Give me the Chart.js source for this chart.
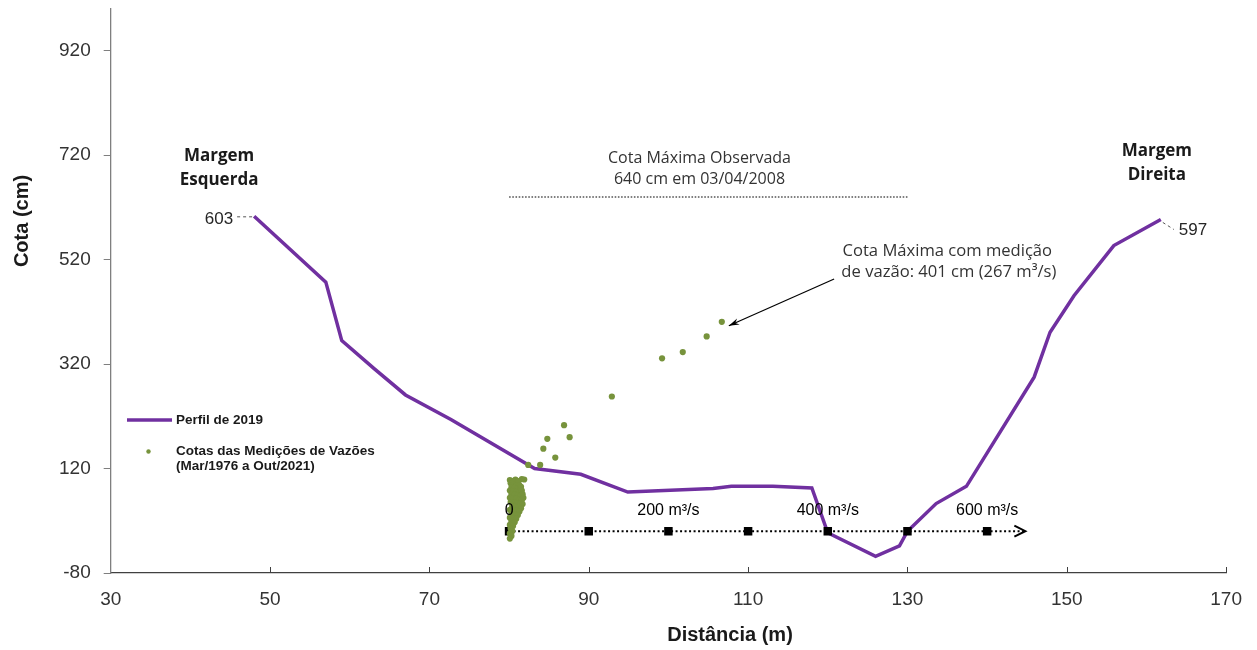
<!DOCTYPE html>
<html>
<head>
<meta charset="utf-8">
<title>Perfil transversal e cotas das medições de vazão</title>
<script src="https://cdn.jsdelivr.net/npm/chart.js@4.4.1/dist/chart.umd.min.js"></script>
<style>
  html, body { margin: 0; padding: 0; background: #ffffff; }
  #wrap { width: 1257px; height: 650px; }
</style>
</head>
<body>
<div id="wrap"><canvas id="grafico" width="1257" height="650"></canvas></div>
<script>
// Perfil transversal levantado em 2019 (distância em m, cota em cm)
const perfilDist = [48, 57, 59, 63.1, 67, 72.7, 83.2, 89, 94.9, 105.6, 107.9, 113.1, 118, 120, 126, 129, 130, 133.6, 137.4, 145.9, 147.9, 150.9, 155.9, 161.8];
const perfilCota = [603, 477, 365, 311, 261, 214, 120, 109, 75, 82, 86, 86, 83, -3, -48, -28, 0, 53, 86, 295, 381, 451, 547, 597];

// Medições de vazão: vazão (m³/s) e cota (cm)
const vazaoMedida = [
  267, 248, 218, 192, 129, 69, 76, 48, 43, 58, 39, 24, 19, 16,
  4, 1, 8, 6, 2, 10, 12, 5, 9, 13, 3, 7, 11, 15,
  1, 5, 9, 12, 16, 3, 7, 11, 14, 17, 1, 5, 9, 13, 16, 18,
  2, 6, 10, 14, 17, 4, 8, 12, 15, 1, 5, 9, 13,
  3, 7, 11, 1, 5, 9, 3, 7, 1, 5, 2, 4, 1, 3, 1
];
const cotaMedida = [
  401, 373, 343, 331, 258, 203, 180, 177, 158, 141, 127, 127, 99, 100,
  96, 98, 99, 95, 92, 93, 96, 89, 87, 88, 84, 83, 82, 85,
  78, 77, 76, 75, 78, 71, 70, 69, 68, 71, 64, 63, 62, 61, 60, 64,
  56, 55, 54, 53, 52, 48, 47, 46, 44, 41, 40, 39, 38,
  33, 32, 31, 26, 25, 24, 19, 17, 12, 10, 5, 0, -4, -9, -14
];

// Eixo auxiliar de vazão desenhado sobre a seção (origem em 80 m, 100 m³/s a cada 10 m)
const vazaoOrigemDist = 80;
const metrosPorVazao = 0.1;
const vazaoMarcas = [0, 100, 200, 300, 400, 500, 600];
const vazaoRotulos = ['0', '', '200 m³/s', '', '400 m³/s', '', '600 m³/s'];
const vazaoFimEixo = 648;

// Cota máxima observada
const cotaMaxObs = 640;
const cotaMaxObsDist = [80, 130];

// Cota máxima com medição de vazão
const cotaMaxMedida = 401;
const vazaoMaxMedida = 267;

// Eixos
const eixoXMin = 30, eixoXMax = 170, eixoXPasso = 20;
const eixoYMin = -80, eixoYMax = 1000;
const eixoYTicks = [-80, 120, 320, 520, 720, 920];

const roxo = '#7030A0';
const verde = '#77933C';
const fonteEixo = "'Liberation Sans', Arial, sans-serif";
const fonteTexto = "'Open Sans', 'Liberation Sans', sans-serif";

const distVazao = q => vazaoOrigemDist + q * metrosPorVazao;

const dadosPerfil = perfilDist.map((d, i) => ({ x: d, y: perfilCota[i] }));
const dadosMedicoes = vazaoMedida.map((q, i) => ({ x: distVazao(q), y: cotaMedida[i] }));
const dadosEixoVazao = vazaoMarcas.map(q => ({ x: distVazao(q), y: 0 }))
  .concat([{ x: distVazao(vazaoFimEixo), y: 0 }]);
const dadosCotaMax = cotaMaxObsDist.map(d => ({ x: d, y: cotaMaxObs }));

const anotacoes = {
  id: 'anotacoes',
  afterDatasetsDraw(chart) {
    const { ctx, scales: { x, y } } = chart;
    const px = v => x.getPixelForValue(v);
    const py = v => y.getPixelForValue(v);
    ctx.save();

    // marcas internas do eixo X
    ctx.strokeStyle = '#404040';
    ctx.lineWidth = 1;
    for (let v = eixoXMin + eixoXPasso; v <= eixoXMax; v += eixoXPasso) {
      const xx = Math.round(px(v)) + 0.5;
      ctx.beginPath();
      ctx.moveTo(xx, y.bottom);
      ctx.lineTo(xx, y.bottom - 6);
      ctx.stroke();
    }

    // seta no fim do eixo de vazão
    const ax = px(distVazao(vazaoFimEixo)), ay = py(0);
    ctx.strokeStyle = '#000';
    ctx.lineWidth = 2;
    ctx.beginPath();
    ctx.moveTo(ax - 11, ay - 5.5);
    ctx.lineTo(ax, ay);
    ctx.lineTo(ax - 11, ay + 5.5);
    ctx.stroke();

    // rótulos do eixo de vazão
    ctx.fillStyle = '#000';
    ctx.font = '16px ' + fonteEixo;
    ctx.textAlign = 'center';
    ctx.textBaseline = 'middle';
    vazaoMarcas.forEach((q, i) => {
      if (vazaoRotulos[i]) ctx.fillText(vazaoRotulos[i], px(distVazao(q)), ay - 21);
    });

    // valores das margens
    ctx.fillStyle = '#262626';
    ctx.font = '17px ' + fonteEixo;
    const p0x = px(perfilDist[0]), p0y = py(perfilCota[0]);
    ctx.textAlign = 'right';
    ctx.fillText(String(perfilCota[0]), p0x - 21, p0y + 3);
    const n = perfilDist.length - 1;
    const p1x = px(perfilDist[n]), p1y = py(perfilCota[n]);
    ctx.textAlign = 'left';
    ctx.fillText(String(perfilCota[n]), p1x + 18, p1y + 11);
    ctx.strokeStyle = '#555';
    ctx.lineWidth = 1;
    ctx.setLineDash([3, 3]);
    ctx.beginPath();
    ctx.moveTo(p0x - 17, p0y + 0.5);
    ctx.lineTo(p0x - 2, p0y + 0.5);
    ctx.moveTo(p1x + 2, p1y + 3);
    ctx.lineTo(p1x + 13, p1y + 10);
    ctx.stroke();
    ctx.setLineDash([]);

    // títulos das margens
    ctx.fillStyle = '#1a1a1a';
    ctx.font = 'bold 17px ' + fonteTexto;
    ctx.textAlign = 'center';
    ctx.fillText('Margem', px(43.6), py(719));
    ctx.fillText('Esquerda', px(43.6), py(673));
    ctx.fillText('Margem', px(161.3), py(728));
    ctx.fillText('Direita', px(161.3), py(681));

    // cota máxima observada
    ctx.fillStyle = '#333';
    ctx.font = '16px ' + fonteTexto;
    ctx.fillText('Cota Máxima Observada', px(103.9), py(713));
    ctx.fillText(cotaMaxObs + ' cm em 03/04/2008', px(103.9), py(673));

    // cota máxima com medição de vazão
    ctx.font = '16.6px ' + fonteTexto;
    ctx.fillText('Cota Máxima com medição', px(135.0), py(537));
    ctx.fillText('de vazão: ' + cotaMaxMedida + ' cm (' + vazaoMaxMedida + ' m³/s)', px(135.2), py(496));

    // seta apontando a medição máxima
    const tx = px(distVazao(vazaoMaxMedida)) + 7, ty = py(cotaMaxMedida) + 4;
    const sx = px(120.8), sy = py(483);
    const ang = Math.atan2(ty - sy, tx - sx);
    ctx.strokeStyle = '#000';
    ctx.lineWidth = 1.2;
    ctx.beginPath();
    ctx.moveTo(sx, sy);
    ctx.lineTo(tx, ty);
    ctx.stroke();
    ctx.fillStyle = '#000';
    ctx.beginPath();
    ctx.moveTo(tx, ty);
    ctx.lineTo(tx - 11 * Math.cos(ang - 0.3), ty - 11 * Math.sin(ang - 0.3));
    ctx.lineTo(tx - 7 * Math.cos(ang), ty - 7 * Math.sin(ang));
    ctx.lineTo(tx - 11 * Math.cos(ang + 0.3), ty - 11 * Math.sin(ang + 0.3));
    ctx.closePath();
    ctx.fill();

    ctx.restore();
  },
  afterDraw(chart) {
    const { ctx } = chart;
    ctx.save();
    // títulos dos eixos
    ctx.fillStyle = '#1a1a1a';
    ctx.font = 'bold 20px ' + fonteEixo;
    ctx.textAlign = 'center';
    ctx.textBaseline = 'middle';
    ctx.fillText('Distância (m)', 730, 635);
    ctx.translate(22, 221);
    ctx.rotate(-Math.PI / 2);
    ctx.fillText('Cota (cm)', 0, 0);
    ctx.restore();

    // legenda
    ctx.save();
    const ds = chart.data.datasets;
    ctx.strokeStyle = ds[0].borderColor;
    ctx.lineWidth = ds[0].borderWidth;
    ctx.beginPath();
    ctx.moveTo(127, 420);
    ctx.lineTo(172, 420);
    ctx.stroke();
    ctx.fillStyle = ds[1].backgroundColor;
    ctx.beginPath();
    ctx.arc(148.5, 451.5, 2.2, 0, Math.PI * 2);
    ctx.fill();
    ctx.fillStyle = '#1a1a1a';
    ctx.font = 'bold 13.5px ' + fonteEixo;
    ctx.textAlign = 'left';
    ctx.textBaseline = 'middle';
    ctx.fillText(ds[0].label, 176, 420);
    ds[1].label.forEach((t, i) => ctx.fillText(t, 176, 451.5 + i * 15));
    ctx.restore();
  }
};

new Chart(document.getElementById('grafico'), {
  data: {
    datasets: [
      {
        type: 'line',
        label: 'Perfil de 2019',
        data: dadosPerfil,
        borderColor: roxo,
        backgroundColor: roxo,
        borderWidth: 3.5,
        pointRadius: 0,
        tension: 0,
        order: 3
      },
      {
        type: 'scatter',
        label: ['Cotas das Medições de Vazões', '(Mar/1976 a Out/2021)'],
        data: dadosMedicoes,
        backgroundColor: verde,
        borderColor: verde,
        borderWidth: 0,
        pointRadius: 3.1,
        order: 1
      },
      {
        type: 'line',
        label: 'Vazão',
        data: dadosEixoVazao,
        borderColor: '#000',
        borderWidth: 2,
        borderDash: [2, 2.5],
        pointStyle: 'rect',
        pointRadius: dadosEixoVazao.map((p, i) => i < vazaoMarcas.length ? 6 : 0),
        pointBackgroundColor: '#000',
        pointBorderWidth: 0,
        tension: 0,
        order: 2
      },
      {
        type: 'line',
        label: 'Cota máxima observada',
        data: dadosCotaMax,
        borderColor: '#555',
        borderWidth: 1.6,
        borderDash: [1.6, 1.6],
        pointRadius: 0,
        order: 4
      }
    ]
  },
  options: {
    responsive: false,
    animation: false,
    devicePixelRatio: 1,
    layout: { padding: { top: 9, right: 29.7, bottom: 0, left: 0 } },
    plugins: { legend: { display: false }, tooltip: { enabled: false } },
    scales: {
      x: {
        type: 'linear',
        min: eixoXMin,
        max: eixoXMax,
        afterFit(scale) { scale.height = 77; },
        ticks: {
          stepSize: eixoXPasso,
          color: '#333',
          padding: 15,
          font: { family: fonteEixo, size: 19 }
        },
        grid: { display: true, drawOnChartArea: false, drawTicks: false },
        border: { display: true, color: '#404040', width: 1.3 }
      },
      y: {
        type: 'linear',
        min: eixoYMin,
        max: eixoYMax,
        afterFit(scale) {
          scale.width = 110.7;
          scale.paddingTop = 0;
          scale.paddingBottom = 0;
        },
        afterBuildTicks(scale) { scale.ticks = eixoYTicks.map(v => ({ value: v })); },
        ticks: {
          color: '#333',
          padding: 13,
          font: { family: fonteEixo, size: 19 }
        },
        grid: { display: true, drawOnChartArea: false, drawTicks: true, tickLength: 7, color: '#7f7f7f' },
        border: { display: true, color: '#7f7f7f', width: 1.3 }
      }
    }
  },
  plugins: [anotacoes]
});
</script>
</body>
</html>
